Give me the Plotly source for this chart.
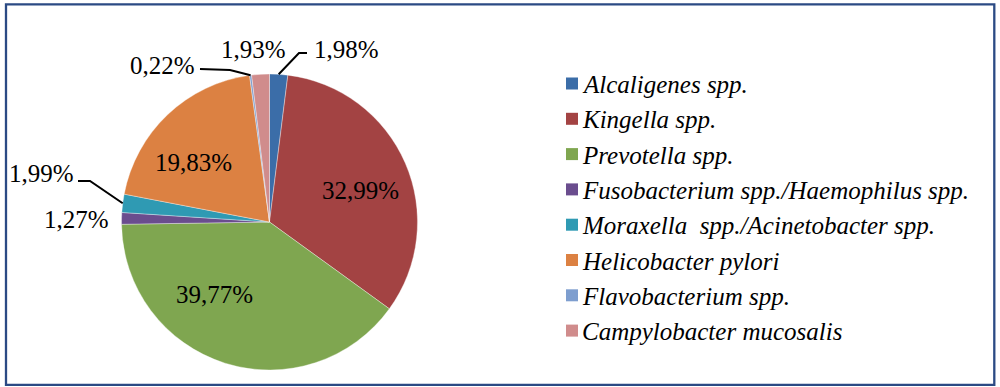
import math
import plotly.graph_objects as go

# ---- data ----
categories = [
    "Alcaligenes spp.",
    "Kingella spp.",
    "Prevotella spp.",
    "Fusobacterium spp./Haemophilus spp.",
    "Moraxella  spp./Acinetobacter spp.",
    "Helicobacter pylori",
    "Flavobacterium spp.",
    "Campylobacter mucosalis",
]
values = [1.98, 32.99, 39.77, 1.27, 1.99, 19.83, 0.22, 1.93]

# ---- style ----
colors = ["#3B6DA8", "#A34343", "#7FA650", "#6A4D8E", "#2F9AB3", "#DC8142", "#7E9ECF", "#D08C8C"]
W, H = 1000, 387
CX, CY, R = 269.5, 222.0, 148.0          # pie centre / radius in pixels
FONT = "Liberation Serif, 'Times New Roman', serif"
FS = 25

def px(x):
    return x / W

def py(y):
    return 1 - y / H

# label layout (pixel positions of label centres)
label_pos = [(346, 50), (360, 190), (214, 294), (76, 219), (41, 173), (193, 163), (162, 65), (253, 50)]
# leader-line elbows: intermediate points, ending at the slice edge
leaders = {
    0: [(307, 53), (299, 53)],
    4: [(78, 181), (90, 181)],
    6: [(200, 69), (230, 70)],
}

fig = go.Figure(go.Pie(
    labels=categories,
    values=values,
    sort=False,
    direction="clockwise",
    rotation=0,
    marker=dict(colors=colors, line=dict(color="rgba(255,255,255,0.6)", width=0.6)),
    textinfo="none",
    hoverinfo="label+percent",
    domain=dict(x=[px(CX - R), px(CX + R)], y=[py(CY + R), py(CY - R)]),
    showlegend=False,
))

total = sum(values)
annotations = []
shapes = []
cum = 0.0
for i, v in enumerate(values):
    mid = (cum + v / 2) / total * 2 * math.pi
    cum += v
    txt = f"{v:.2f}".replace(".", ",") + "%"
    lx, ly = label_pos[i]
    annotations.append(dict(
        x=px(lx), y=py(ly), xref="paper", yref="paper", text=txt, showarrow=False,
        xanchor="center", yanchor="middle", font=dict(family=FONT, size=FS, color="#000000"),
    ))
    if i in leaders:
        ex, ey = CX + R * math.sin(mid), CY - R * math.cos(mid)
        pts = leaders[i] + [(ex, ey)]
        path = "M " + " L ".join(f"{px(x):.5f},{py(y):.5f}" for x, y in pts)
        shapes.append(dict(type="path", xref="paper", yref="paper", path=path,
                           line=dict(color="#000000", width=2)))

# manual legend
LX0, LY0, LDY, SQ = 566, 83.5, 35.3, 12
for i, name in enumerate(categories):
    yc = LY0 + i * LDY
    shapes.append(dict(type="rect", xref="paper", yref="paper",
                       x0=px(LX0), x1=px(LX0 + SQ), y0=py(yc + SQ / 2), y1=py(yc - SQ / 2),
                       fillcolor=colors[i], line=dict(width=0)))
    annotations.append(dict(
        x=px(LX0 + SQ + 2), y=py(yc + 1), xref="paper", yref="paper", text=name, showarrow=False,
        xanchor="left", yanchor="middle",
        font=dict(family=FONT, size=FS, color="#000000", style="italic"),
    ))

# frame
shapes.append(dict(type="rect", xref="paper", yref="paper",
                   x0=px(6), x1=px(994.3), y0=py(384.8), y1=py(4.3),
                   line=dict(color="#2B4A84", width=2.3), fillcolor="rgba(0,0,0,0)"))

fig.update_layout(
    width=W, height=H,
    margin=dict(l=0, r=0, t=0, b=0),
    paper_bgcolor="white", plot_bgcolor="white",
    separators=", ",
    annotations=annotations,
    shapes=shapes,
    showlegend=False,
)

fig.write_html("out.html", config={"displayModeBar": False},
               post_script="document.body.style.margin='0px';document.body.style.padding='0px';")
